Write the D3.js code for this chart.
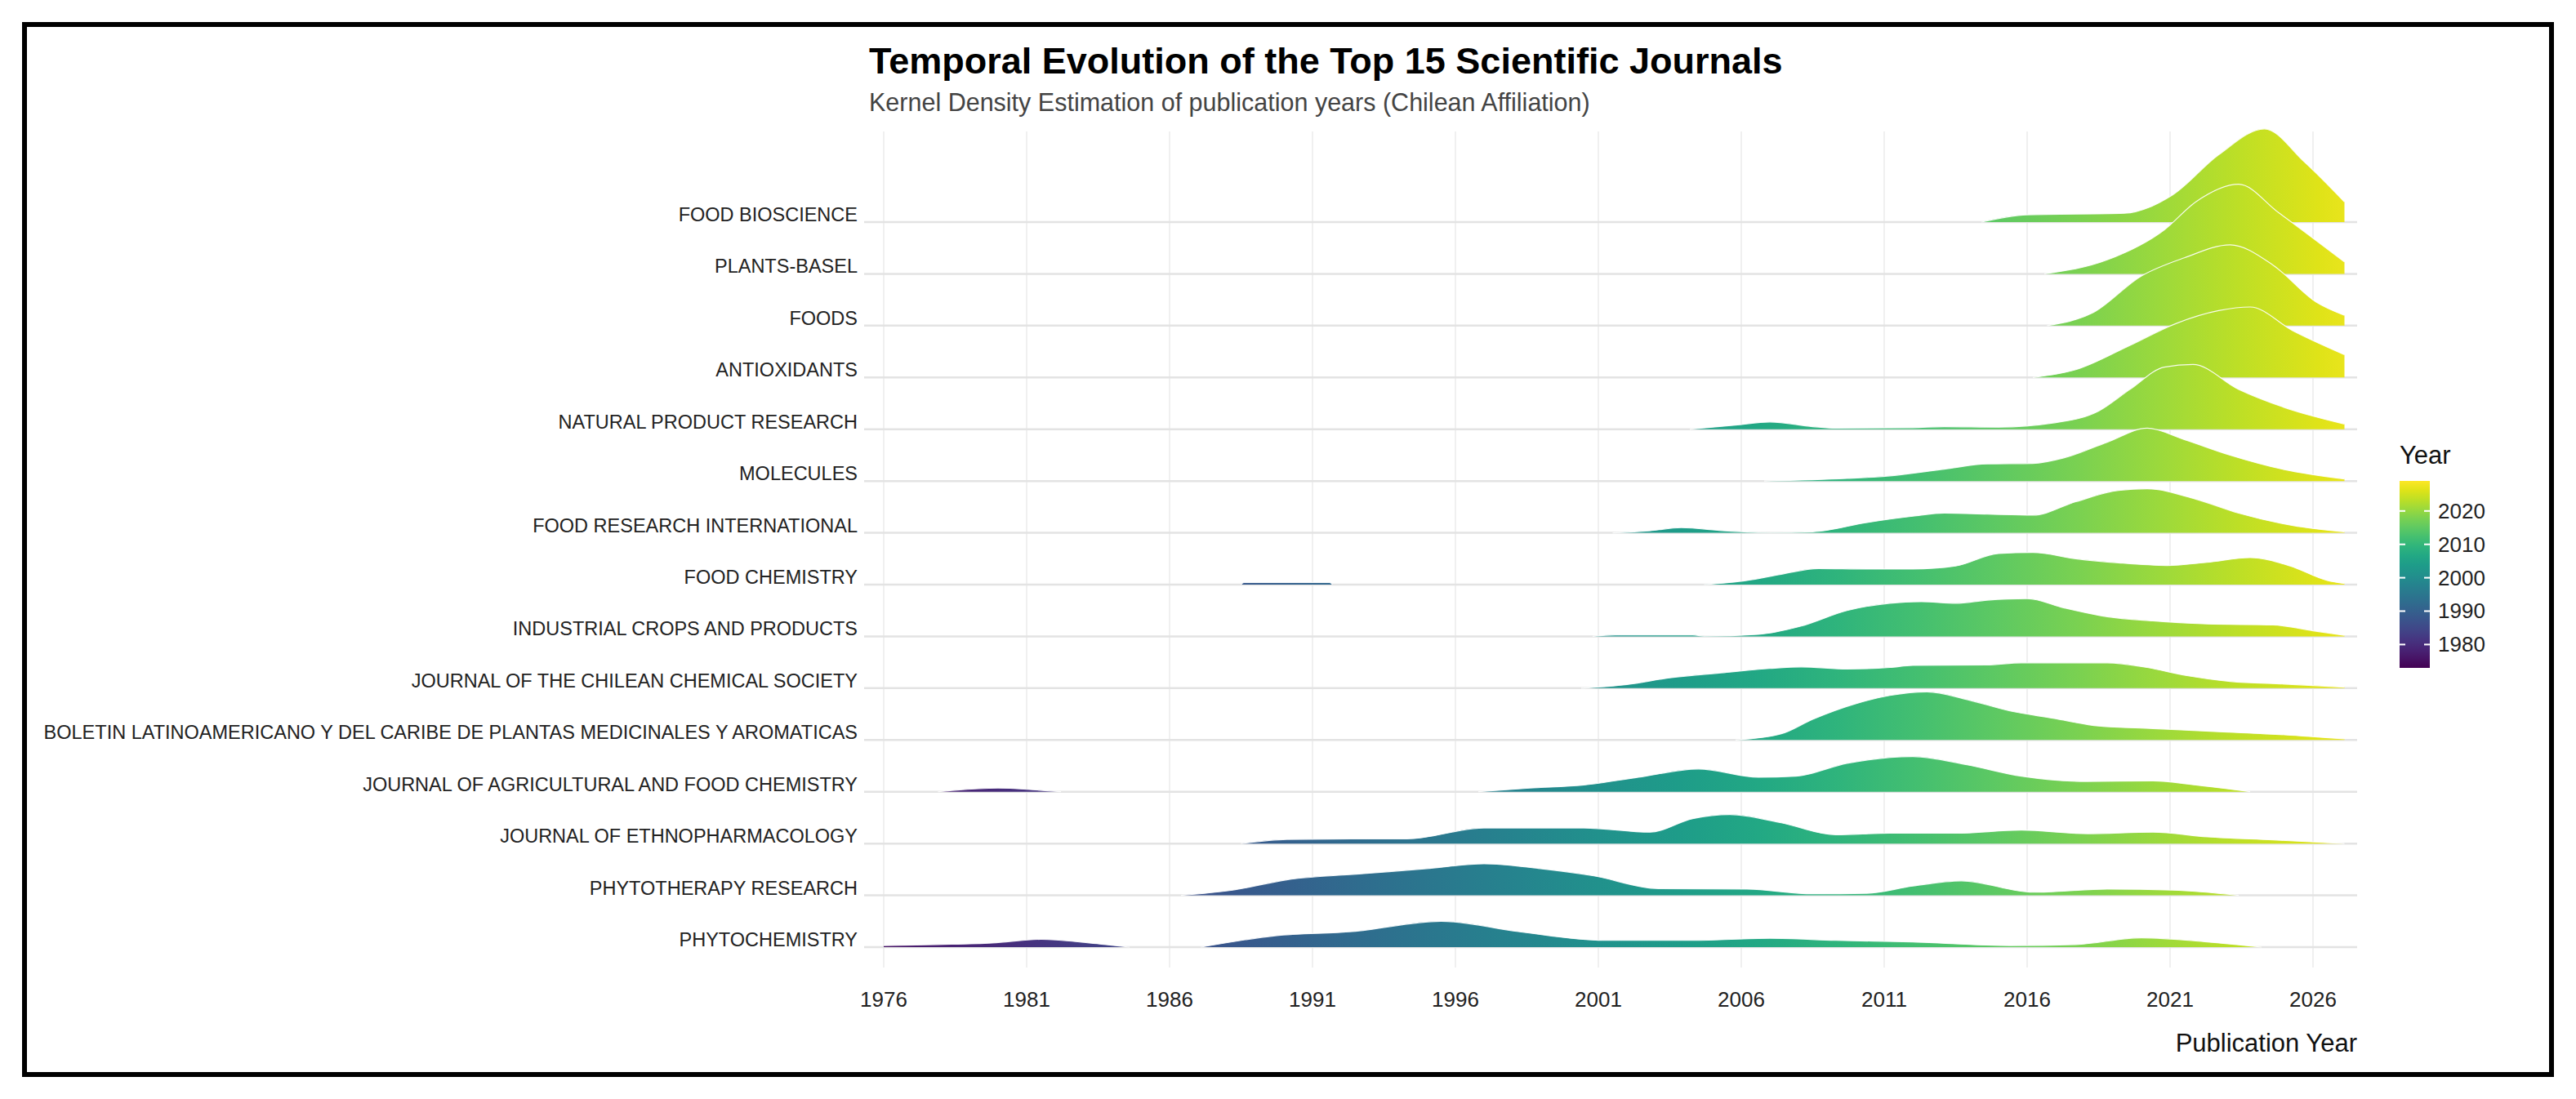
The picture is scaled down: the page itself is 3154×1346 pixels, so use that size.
<!DOCTYPE html>
<html><head><meta charset="utf-8">
<script src="https://cdn.jsdelivr.net/npm/d3@7"></script>
<style>body{margin:0;background:#fff}svg{display:block}</style>
</head><body>
<div id="chart"></div>
<script>
// journals, top row first
const journals = [
  'FOOD BIOSCIENCE', 'PLANTS-BASEL', 'FOODS', 'ANTIOXIDANTS', 'NATURAL PRODUCT RESEARCH',
  'MOLECULES', 'FOOD RESEARCH INTERNATIONAL', 'FOOD CHEMISTRY', 'INDUSTRIAL CROPS AND PRODUCTS',
  'JOURNAL OF THE CHILEAN CHEMICAL SOCIETY',
  'BOLETIN LATINOAMERICANO Y DEL CARIBE DE PLANTAS MEDICINALES Y AROMATICAS',
  'JOURNAL OF AGRICULTURAL AND FOOD CHEMISTRY', 'JOURNAL OF ETHNOPHARMACOLOGY',
  'PHYTOTHERAPY RESEARCH', 'PHYTOCHEMISTRY'
];

// [year, height in row units]; null splits separate pieces
const ridges = [
  [[2014.4,0],[2016,0.14],[2019.4,0.17],[2021.1,0.53],[2022.7,1.3],[2024.3,1.8],[2025.7,1.16],[2027.1,0.39]],
  [[2016.6,0],[2018.8,0.27],[2020.8,0.85],[2021.9,1.39],[2023.4,1.73],[2024.8,1.18],[2027.1,0.23]],
  [[2016.7,0],[2018.3,0.25],[2020,0.96],[2021.5,1.31],[2023.1,1.56],[2024.6,1.17],[2026.1,0.46],[2027.1,0.2]],
  [[2016.2,0],[2017.7,0.15],[2019.6,0.62],[2021.2,1.04],[2022.7,1.29],[2023.8,1.36],[2025.3,0.9],[2027.1,0.44]],
  [[2004.2,0],[2005.8,0.08],[2007,0.14],[2008.5,0.05],[2009.3,0.02],[2012,0.03],[2013.1,0.05],[2015,0.04],[2016.9,0.12],[2018.5,0.35],[2019.6,0.77],[2020.8,1.2],[2021.8,1.25],[2023.4,0.77],[2025,0.42],[2027.1,0.1]],
  [[2006.8,0],[2009.7,0.05],[2011.2,0.1],[2013.1,0.23],[2014.6,0.33],[2016.2,0.34],[2017.3,0.45],[2018.8,0.75],[2020.2,1.02],[2021.5,0.8],[2023.1,0.5],[2025,0.22],[2027.1,0.04]],
  [[2001.5,0],[2002.8,0.04],[2003.9,0.1],[2005.4,0.04],[2007,0.005],[2008.5,0.02],[2010.4,0.2],[2012,0.32],[2013.1,0.38],[2014.6,0.36],[2016.2,0.34],[2017.7,0.6],[2019.2,0.82],[2020.2,0.85],[2021.9,0.65],[2023.4,0.38],[2025.3,0.14],[2027.1,0.02]],
  [[1988.5,0],[1988.6,0.04],[1991.6,0.04],[1991.7,0],null,[2004.7,0],[2006.2,0.08],[2007.4,0.2],[2008.7,0.31],[2010.4,0.3],[2012,0.3],[2013.5,0.36],[2015,0.6],[2016.2,0.62],[2017.7,0.5],[2019.2,0.42],[2020.9,0.37],[2022.3,0.43],[2023.8,0.52],[2025.2,0.36],[2026.5,0.08],[2027.1,0.02]],
  [[2000.8,0],[2001.6,0.03],[2004.3,0.03],[2004.7,0.005],[2006.6,0.04],[2008.1,0.2],[2009.7,0.5],[2011.2,0.64],[2012.3,0.67],[2013.5,0.64],[2014.6,0.7],[2016,0.73],[2017.3,0.55],[2018.8,0.38],[2020.4,0.3],[2022.3,0.24],[2024.6,0.22],[2026.1,0.1],[2027.1,0.02]],
  [[2000.4,0],[2002,0.07],[2003.5,0.2],[2005.4,0.3],[2007,0.38],[2008.1,0.41],[2009.7,0.37],[2011.2,0.4],[2012,0.44],[2014.6,0.45],[2015.8,0.49],[2018.8,0.49],[2020.2,0.4],[2021.5,0.25],[2023.1,0.13],[2025,0.08],[2027.1,0.02]],
  [[2005.8,0],[2007.4,0.12],[2008.5,0.4],[2010,0.7],[2011.2,0.86],[2012.5,0.93],[2013.9,0.78],[2015.4,0.56],[2016.9,0.42],[2018.5,0.27],[2020.4,0.22],[2022.7,0.16],[2025,0.1],[2027.1,0.02]],
  [[1977.9,0],[1978.5,0.03],[1980,0.07],[1981.2,0.04],[1982.2,0],null,[1996.8,0],[1998.6,0.07],[2000.5,0.13],[2002.4,0.28],[2004.5,0.44],[2006.6,0.28],[2007.9,0.3],[2009.7,0.55],[2012,0.68],[2013.9,0.52],[2015.8,0.3],[2018.1,0.2],[2020.4,0.21],[2021.9,0.13],[2023.8,0]],
  [[1988.5,0],[1990.1,0.08],[1992.4,0.09],[1994.3,0.09],[1997,0.3],[2000.5,0.3],[2002.8,0.22],[2004.3,0.48],[2005.6,0.56],[2007.4,0.4],[2009.3,0.17],[2011.2,0.2],[2013.5,0.2],[2015.8,0.26],[2018.1,0.19],[2020.4,0.22],[2022.3,0.13],[2024.6,0.07],[2027.1,0]],
  [[1986.4,0],[1988.2,0.1],[1990.1,0.3],[1992.8,0.42],[1995.1,0.52],[1997,0.61],[1998.9,0.52],[2000.8,0.38],[2003.1,0.13],[2006.2,0.12],[2008.5,0.03],[2010.4,0.04],[2012,0.18],[2013.7,0.28],[2016.2,0.06],[2018.8,0.12],[2021.1,0.1],[2023.4,0]],
  [[1976,0.03],[1977.9,0.05],[1979.8,0.08],[1981.5,0.15],[1983.2,0.08],[1984.6,0],null,[1987.1,0],[1989.7,0.22],[1992.4,0.3],[1995.5,0.5],[1998.2,0.3],[2001.2,0.13],[2004.3,0.13],[2007,0.17],[2009.3,0.13],[2012,0.1],[2015.4,0.03],[2017.7,0.05],[2020,0.18],[2022.3,0.1],[2024.2,0]]
];

const xTicks = [1976, 1981, 1986, 1991, 1996, 2001, 2006, 2011, 2016, 2021, 2026];
const legendTicks = [1980, 1990, 2000, 2010, 2020];

const W = 3154, H = 1346;
const font = 'Arial, "Liberation Sans", sans-serif';
const svg = d3.select('#chart').append('svg').attr('width', W).attr('height', H);

svg.append('rect').attr('x', 30).attr('y', 30).attr('width', W - 60).attr('height', H - 60)
  .attr('fill', '#fff').attr('stroke', '#000').attr('stroke-width', 6);

const x = d3.scaleLinear().domain([1976, 2026]).range([1082, 2832]);
const panelL = 1058, panelR = 2886, panelT = 161, panelB = 1185;
const y = d3.scaleLinear().domain([0, journals.length - 1]).range([272, 1160]);
const rowH = y(1) - y(0);

// grid
svg.append('g').selectAll('line').data(xTicks).join('line')
  .attr('x1', d => x(d)).attr('x2', d => x(d)).attr('y1', panelT).attr('y2', panelB)
  .attr('stroke', '#ebebeb').attr('stroke-width', 1.5);
svg.append('g').selectAll('line').data(journals).join('line')
  .attr('x1', panelL).attr('x2', panelR).attr('y1', (d, i) => y(i)).attr('y2', (d, i) => y(i))
  .attr('stroke', '#e3e3e3').attr('stroke-width', 2.5);

// gradient along x
const defs = svg.append('defs');
const grad = defs.append('linearGradient').attr('id', 'vir')
  .attr('gradientUnits', 'userSpaceOnUse')
  .attr('x1', x(1973)).attr('x2', x(2029)).attr('y1', 0).attr('y2', 0);
d3.range(0, 1.0001, 0.05).forEach(t => grad.append('stop')
  .attr('offset', t).attr('stop-color', d3.interpolateViridis(t)));

const ridgeG = svg.append('g');
ridges.forEach((pts, i) => {
  const base = y(i);
  const pieces = [];
  let cur = [];
  pts.forEach(p => { if (p === null) { pieces.push(cur); cur = []; } else cur.push(p); });
  pieces.push(cur);
  pieces.forEach(pc => {
    const area = d3.area().x(d => x(d[0])).y0(base).y1(d => base - d[1] * rowH).curve(d3.curveMonotoneX);
    ridgeG.append('path').attr('d', area(pc)).attr('fill', 'url(#vir)');
    const line = d3.line().x(d => x(d[0])).y(d => base - d[1] * rowH).curve(d3.curveMonotoneX);
    ridgeG.append('path').attr('d', line(pc)).attr('fill', 'none')
      .attr('stroke', '#fff').attr('stroke-width', 1.2).attr('stroke-opacity', 0.9);
  });
});

// y labels
svg.append('g').selectAll('text').data(journals).join('text')
  .attr('x', 1050).attr('y', (d, i) => y(i) - 1).attr('text-anchor', 'end')
  .attr('font-family', font).attr('font-size', 23.5).attr('fill', '#222').text(d => d);

// x axis
svg.append('g').selectAll('text').data(xTicks).join('text')
  .attr('x', d => x(d)).attr('y', 1233).attr('text-anchor', 'middle')
  .attr('font-family', font).attr('font-size', 26).attr('fill', '#222').text(d => d);
svg.append('text').attr('x', panelR).attr('y', 1288).attr('text-anchor', 'end')
  .attr('font-family', font).attr('font-size', 31).attr('fill', '#111').text('Publication Year');

// titles
svg.append('text').attr('x', 1064).attr('y', 90).attr('font-family', font).attr('font-weight', 'bold')
  .attr('font-size', 45).attr('fill', '#000').text('Temporal Evolution of the Top 15 Scientific Journals');
svg.append('text').attr('x', 1064).attr('y', 136).attr('font-family', font)
  .attr('font-size', 30.5).attr('fill', '#444').text('Kernel Density Estimation of publication years (Chilean Affiliation)');

// legend
const lx = 2938, lw = 37;
const ly = d3.scaleLinear().domain([1973, 2029]).range([818, 589]);
const lgrad = defs.append('linearGradient').attr('id', 'leg')
  .attr('x1', 0).attr('x2', 0).attr('y1', 1).attr('y2', 0);
d3.range(0, 1.0001, 0.05).forEach(t => lgrad.append('stop')
  .attr('offset', t).attr('stop-color', d3.interpolateViridis(t)));
svg.append('rect').attr('x', lx).attr('y', ly(2029)).attr('width', lw).attr('height', ly(1973) - ly(2029))
  .attr('fill', 'url(#leg)');
const lt = svg.append('g').selectAll('g').data(legendTicks).join('g');
lt.append('line').attr('x1', lx).attr('x2', lx + 7).attr('y1', d => ly(d)).attr('y2', d => ly(d))
  .attr('stroke', '#fff').attr('stroke-width', 2);
lt.append('line').attr('x1', lx + lw - 7).attr('x2', lx + lw).attr('y1', d => ly(d)).attr('y2', d => ly(d))
  .attr('stroke', '#fff').attr('stroke-width', 2);
lt.append('text').attr('x', lx + lw + 10).attr('y', d => ly(d) + 9)
  .attr('font-family', font).attr('font-size', 26).attr('fill', '#222').text(d => d);
svg.append('text').attr('x', lx).attr('y', 568).attr('font-family', font)
  .attr('font-size', 31).attr('fill', '#111').text('Year');
</script>
</body></html>
